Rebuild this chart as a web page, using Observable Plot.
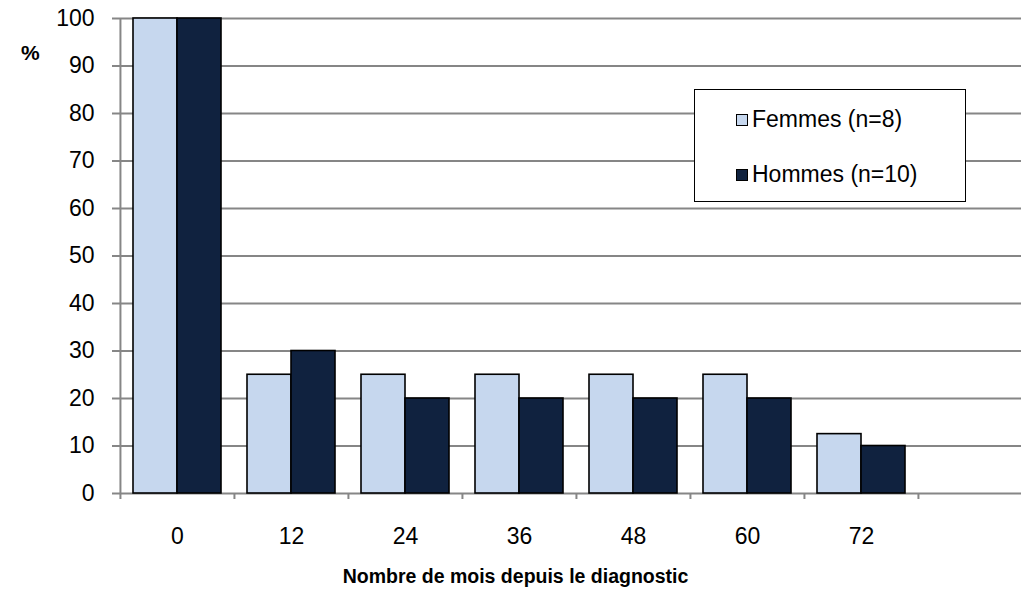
<!DOCTYPE html>
<html>
<head>
<meta charset="utf-8">
<script src="https://cdn.jsdelivr.net/npm/d3@7"></script>
<script src="https://cdn.jsdelivr.net/npm/@observablehq/plot@0.6"></script>
<style>
  html, body { margin: 0; padding: 0; background: #fff; overflow: hidden; }
  #wrap { position: relative; width: 1021px; height: 592px; font-family: "Liberation Sans", Arial, sans-serif; }
  #legend { position: absolute; left: 694px; top: 89px; width: 272px; height: 113px; border: 1.5px solid #000; background: #fff; box-sizing: border-box; }
  .item { position: absolute; left: 41px; font-size: 23px; line-height: 1; white-space: nowrap; }
  .sw { display: inline-block; width: 10px; height: 10px; border: 1px solid #000; margin-right: 4px; vertical-align: 1px; }
</style>
</head>
<body>
<div id="wrap"></div>
<script>
// Data
const months = ["0", "12", "24", "36", "48", "60", "72", ""];
const femmes = [100, 25, 25, 25, 25, 25, 12.5];
const hommes = [100, 30, 20, 20, 20, 20, 10];
const seriesNames = ["Femmes (n=8)", "Hommes (n=10)"];
const seriesColors = ["#c6d7ee", "#10223f"];
const yTicks = [0, 10, 20, 30, 40, 50, 60, 70, 80, 90, 100];
const yTitle = "%";
const xTitle = "Nombre de mois depuis le diagnostic";

const fData = femmes.map((v, i) => ({month: months[i], value: v}));
const hData = hommes.map((v, i) => ({month: months[i], value: v}));

const gray = "#868686";
const half = (1032 - 119) / months.length / 2;

const chart = Plot.plot({
  width: 1021,
  height: 592,
  marginLeft: 119,
  marginRight: 0,
  marginTop: 18,
  marginBottom: 99,
  style: {fontFamily: "'Liberation Sans', Arial, sans-serif", fontSize: "23px", color: "#000", background: "#fff"},
  x: {domain: months, range: [119, 1032], padding: 0},
  y: {domain: [0, 100]},
  marks: [
    Plot.ruleY(yTicks, {stroke: gray, strokeWidth: 2}),
    Plot.ruleX([months[0]], {dx: -half, stroke: gray, strokeWidth: 2}),
    Plot.barY(fData, {x: "month", y: "value", fill: seriesColors[0], stroke: "#000", strokeWidth: 1.6, insetLeft: 13, insetRight: 57}),
    Plot.barY(hData, {x: "month", y: "value", fill: seriesColors[1], stroke: "#000", strokeWidth: 1.6, insetLeft: 57, insetRight: 13}),
    Plot.axisY({ticks: yTicks, tickSize: 7, stroke: gray, strokeWidth: 2, tickFormat: () => "", label: null}),
    Plot.axisY({ticks: yTicks, tickSize: 0, tickPadding: 25, fill: "#000", label: null}),
    Plot.axisX({tickSize: 6, stroke: gray, strokeWidth: 2, dx: -half, tickFormat: () => "", label: null}),
    Plot.axisX({tickSize: 0, tickPadding: 34, fill: "#000", label: null}),
    Plot.text([yTitle], {frameAnchor: "top-left", dx: -98.5, dy: 27, fontWeight: "bold", fontSize: 21}),
    Plot.text([xTitle], {frameAnchor: "bottom", dx: -55, dy: 89, fontWeight: "bold", fontSize: 19.5})
  ]
});

const wrap = document.getElementById("wrap");
wrap.appendChild(chart);

const legend = document.createElement("div");
legend.id = "legend";
seriesNames.forEach((name, i) => {
  const item = document.createElement("div");
  item.className = "item";
  item.style.top = (i === 0 ? 18 : 73) + "px";
  const sw = document.createElement("span");
  sw.className = "sw";
  sw.style.background = seriesColors[i];
  item.appendChild(sw);
  item.appendChild(document.createTextNode(name));
  legend.appendChild(item);
});
wrap.appendChild(legend);
</script>
</body>
</html>
